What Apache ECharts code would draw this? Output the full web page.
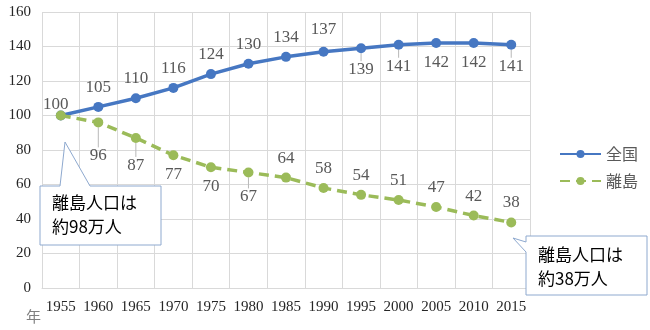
<!DOCTYPE html>
<html>
<head>
<meta charset="utf-8">
<script src="https://cdn.jsdelivr.net/npm/echarts@6/dist/echarts.min.js"></script>
<style>
  html, body { margin: 0; padding: 0; background: #fff; }
  #chart { width: 650px; height: 330px; }
</style>
</head>
<body>
<div id="chart"></div>
<script>
// Population index (1955 = 100)
const years = ['1955', '1960', '1965', '1970', '1975', '1980', '1985', '1990', '1995', '2000', '2005', '2010', '2015'];
const nationwide = [100, 105, 110, 116, 124, 130, 134, 137, 139, 141, 142, 142, 141];
const islands = [100, 96, 87, 77, 70, 67, 64, 58, 54, 51, 47, 42, 38];
const yTicks = [0, 20, 40, 60, 80, 100, 120, 140, 160];

// Label placement per point (above / below the marker)
const nationSide = ['top','top','top','top','top','top','top','top','bottom','bottom','bottom','bottom','bottom'];
const islandSide = ['none','bottom','bottom','bottom','bottom','bottom','top','top','top','top','top','top','top'];
// Extra push for labels pulled away from their points
const nationPush = [0,0,0,0,0,0,0,3,2,2,0,0,2];
const islandPush = [0,14,8,0,0,5,0,0,0,0,0,0,0];
// Points whose labels carry a leader line
const nationLeader = [0,0,0,0,0,0,0,0,1,1,0,0,1];
const islandLeader = [0,1,1,0,0,1,0,0,0,0,0,0,0];

const labelFont = { fontFamily: 'Liberation Serif', fontSize: 17, color: '#595959' };
const leaderStyle = { color: '#b8b8b8', width: 1 };

function buildItems(values, sides, leaders) {
  return values.map((v, i) => ({
    value: v,
    label: sides[i] === 'none' ? { show: false } : { position: sides[i] },
    labelLine: { show: !!leaders[i], lineStyle: leaderStyle }
  }));
}

function layoutFor(sides, push, shiftFirst) {
  return function (p) {
    const out = {};
    const d = push[p.dataIndex] || 0;
    if (d) out.dy = sides[p.dataIndex] === 'top' ? -d : d;
    if (shiftFirst && p.dataIndex === 0) { out.dx = -5; out.dy = 9; }
    return out;
  };
}

const chart = echarts.init(document.getElementById('chart'), null, { renderer: 'canvas' });

function calloutShape(points) {
  return {
    type: 'polygon',
    shape: { points: points },
    style: { fill: '#ffffff', stroke: '#8ea9cf', lineWidth: 1 },
    z: 100
  };
}

const calloutText = { fontFamily: 'Noto Sans CJK JP', fontSize: 17, fill: '#000', lineHeight: 24 };

chart.setOption({
  animation: false,
  backgroundColor: '#ffffff',
  grid: { left: 42, right: 120, top: 12, bottom: 42 },
  legend: {
    orient: 'vertical',
    left: 554,
    top: 141,
    itemWidth: 41,
    itemHeight: 10,
    itemGap: 11,
    textStyle: { fontFamily: 'Noto Sans CJK JP', fontSize: 16, color: '#595959' },
    data: ['全国', '離島']
  },
  xAxis: {
    type: 'category',
    data: years,
    boundaryGap: true,
    axisLine: { show: true, lineStyle: { color: '#d9d9d9', width: 1 } },
    axisTick: { show: false },
    splitLine: { show: true, lineStyle: { color: '#d9d9d9', width: 1 } },
    axisLabel: { fontFamily: 'Liberation Serif', fontSize: 15, color: '#262626', margin: 12, interval: 0 }
  },
  yAxis: {
    type: 'value',
    min: yTicks[0],
    max: yTicks[yTicks.length - 1],
    interval: 20,
    axisLine: { show: false },
    axisTick: { show: false },
    splitLine: { lineStyle: { color: '#d9d9d9', width: 1 } },
    axisLabel: { fontFamily: 'Liberation Serif', fontSize: 15, color: '#262626', margin: 11 }
  },
  series: [
    {
      name: '全国',
      type: 'line',
      data: buildItems(nationwide, nationSide, nationLeader),
      symbol: 'circle',
      symbolSize: 10,
      itemStyle: { color: '#4677c2' },
      lineStyle: { color: '#4677c2', width: 3.5 },
      label: Object.assign({ show: true, distance: 6 }, labelFont),
      labelLayout: layoutFor(nationSide, nationPush, true),
      z: 3
    },
    {
      name: '離島',
      type: 'line',
      data: buildItems(islands, islandSide, islandLeader),
      symbol: 'circle',
      symbolSize: 10,
      itemStyle: { color: '#9bbb59' },
      lineStyle: { color: '#9bbb59', width: 3.5, type: [10, 6] },
      label: Object.assign({ show: true, distance: 6 }, labelFont),
      labelLayout: layoutFor(islandSide, islandPush, false),
      z: 4
    }
  ],
  graphic: [
    {
      type: 'text', left: 26, top: 309,
      style: { text: '年', fontFamily: 'Noto Sans CJK JP', fontSize: 15, fill: '#7f7f7f' }
    },
    calloutShape([[40,186],[60,186],[65,142],[90,186],[161,186],[161,245],[40,245]]),
    { type: 'text', left: 52, top: 191, z: 101, style: Object.assign({ text: '離島人口は\n約98万人' }, calloutText) },
    calloutShape([[526,236],[647,236],[647,295],[526,295],[526,252],[513,238],[526,242]]),
    { type: 'text', left: 538, top: 243, z: 101, style: Object.assign({ text: '離島人口は\n約38万人' }, calloutText) }
  ]
});
</script>
</body>
</html>
